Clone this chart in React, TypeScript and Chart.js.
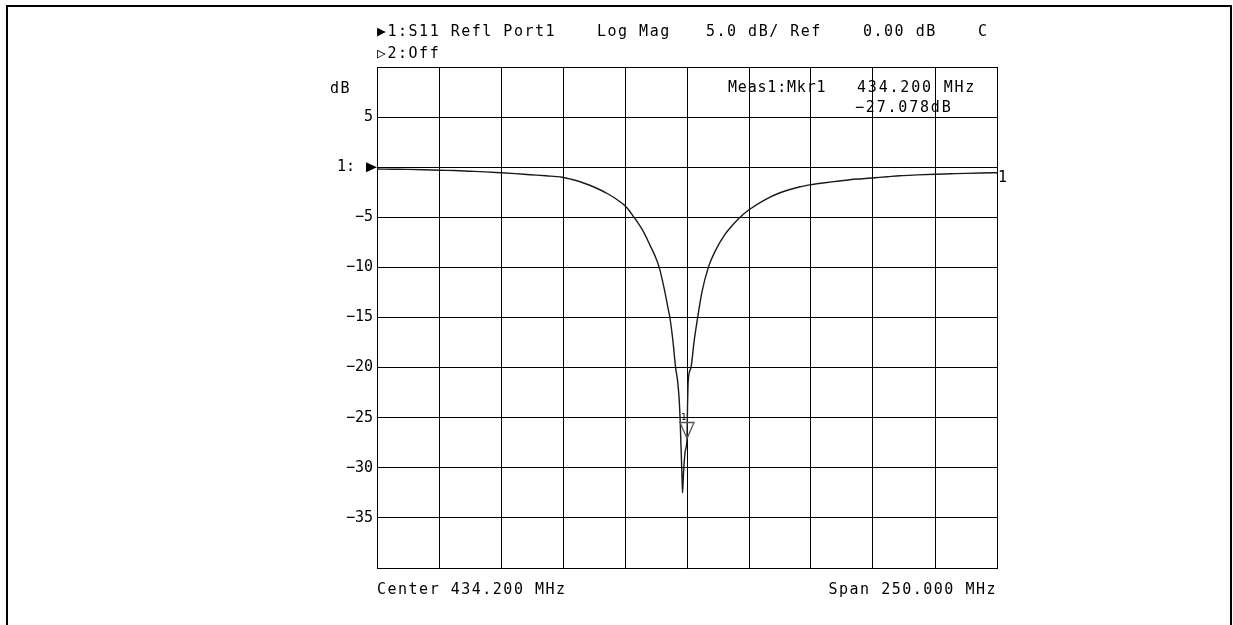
import React, { useEffect, useRef } from 'react';
import { Chart, registerables } from 'chart.js';

Chart.register(...registerables);

// S11 trace (frequency in MHz, magnitude in dB)
const FREQ_MHZ = [
  309.2, 315.5, 321.7, 328.0, 334.6, 340.5, 346.7, 352.8, 358.8, 364.9, 370.9, 377.3, 383.8, 387.5,
  391.1, 395.0, 399.1, 402.2, 405.2, 407.2, 409.2, 410.8, 412.4, 414.3, 416.1, 417.7, 419.3, 421.3,
  423.0, 424.9, 426.7, 427.3, 428.6, 429.6, 430.4, 431.0, 431.4, 431.8, 432.2, 432.4, 432.8, 433.4,
  433.8, 434.2, 434.4, 434.7, 435.8, 437.0, 438.5, 440.2, 442.8, 445.5, 449.5, 452.5, 455.6, 459.2,
  465.6, 471.7, 479.8, 484.8, 489.8, 494.8, 499.9, 505.0, 510.0, 515.0, 520.1, 527.0, 534.2, 540.3,
  546.3, 552.8, 559.2,
];
const S11_DB = [
  -0.18, -0.2, -0.22, -0.25, -0.3, -0.33, -0.4, -0.47, -0.55, -0.64, -0.75, -0.86, -1.0, -1.2,
  -1.45, -1.8, -2.25, -2.65, -3.1, -3.45, -3.85, -4.3, -4.85, -5.5, -6.2, -6.95, -7.8, -8.85,
  -10.0, -12.0, -14.25, -15.0, -17.5, -20.0, -21.3, -23.0, -25.0, -28.0, -31.0, -32.5, -30.5, -28.5,
  -28.0, -27.08, -24.0, -21.3, -20.0, -17.5, -15.0, -12.5, -10.0, -8.4, -6.7, -5.8, -5.0, -4.25,
  -3.25, -2.55, -1.95, -1.72, -1.55, -1.4, -1.25, -1.15, -1.05, -0.95, -0.85, -0.77, -0.7, -0.66,
  -0.62, -0.58, -0.55,
];

const X_GRID_MHZ = [309.2, 334.2, 359.2, 384.2, 409.2, 434.2, 459.2, 484.2, 509.2, 534.2, 559.2];
const Y_TICKS = [10, 5, 0, -5, -10, -15, -20, -25, -30, -35, -40];
const Y_TICK_LABELS = ['', '5', '1:  ', '\u22125', '\u221210', '\u221215', '\u221220', '\u221225', '\u221230', '\u221235', ''];

const MARKER_FREQ = 434.2;
const MARKER_DB = -27.078;

const HEADER_1 = ['\u25B61:S11 Refl Port1', 'Log Mag', '5.0 dB/ Ref', '0.00 dB', 'C'];
const HEADER_2 = '\u25B72:Off';
const MARKER_TEXT = ['Meas1:Mkr1', '434.200 MHz', '\u221227.078dB'];
const FOOTER = ['Center 434.200 MHz', 'Span 250.000 MHz'];

const FONT = '"DejaVu Sans Mono", monospace';

const overlay = {
  id: 'overlay',
  afterDraw(chart: any) {
    const ctx = chart.ctx as CanvasRenderingContext2D;
    const xs = chart.scales.x;
    const ys = chart.scales.y;
    const area = chart.chartArea;
    ctx.save();
    // outer frame
    ctx.strokeStyle = '#000';
    ctx.lineWidth = 2;
    ctx.beginPath();
    ctx.moveTo(7, 700);
    ctx.lineTo(7, 6);
    ctx.lineTo(1231, 6);
    ctx.lineTo(1231, 700);
    ctx.stroke();

    ctx.fillStyle = '#000';
    ctx.font = `15px ${FONT}`;
    (ctx as any).letterSpacing = '1.5px';
    ctx.textBaseline = 'alphabetic';
    const txt = (s: string, px: number, py: number, align: CanvasTextAlign = 'left') => {
      ctx.textAlign = align;
      ctx.fillText(s, px, py);
    };
    const hx = [377, 597, 706, 863, 978];
    HEADER_1.forEach((s, i) => txt(s, hx[i], 36));
    txt(HEADER_2, 377, 58);
    txt('dB', 330, 93);
    (ctx as any).letterSpacing = '0.8px';
    txt(MARKER_TEXT[0], 728, 92);
    (ctx as any).letterSpacing = '1.8px';
    txt(MARKER_TEXT[1], 857, 92);
    txt(MARKER_TEXT[2], 855, 112);
    (ctx as any).letterSpacing = '1.5px';
    txt(FOOTER[0], area.left, 594);
    txt(FOOTER[1], area.right, 594, 'right');

    // reference position arrow at 0 dB
    const y0 = ys.getPixelForValue(0);
    ctx.beginPath();
    ctx.moveTo(area.left - 11, y0 - 5);
    ctx.lineTo(area.left, y0);
    ctx.lineTo(area.left - 11, y0 + 5);
    ctx.closePath();
    ctx.fill();

    // trace end label
    const lastX = xs.getPixelForValue(FREQ_MHZ[FREQ_MHZ.length - 1]);
    const lastY = ys.getPixelForValue(S11_DB[S11_DB.length - 1]);
    ctx.font = `15px ${FONT}`;
    (ctx as any).letterSpacing = '0px';
    txt('1', lastX + 1, lastY + 9);

    // marker 1
    const mx = xs.getPixelForValue(MARKER_FREQ);
    const my = ys.getPixelForValue(MARKER_DB);
    ctx.strokeStyle = '#555';
    ctx.lineWidth = 1.3;
    ctx.beginPath();
    ctx.moveTo(mx, my);
    ctx.lineTo(mx - 7, my - 16);
    ctx.lineTo(mx + 7, my - 16);
    ctx.closePath();
    ctx.stroke();
    ctx.font = `9px ${FONT}`;
    txt('1', mx - 6, my - 19);
    ctx.restore();
  },
};

export default function App() {
  const ref = useRef<HTMLCanvasElement | null>(null);
  useEffect(() => {
    if (!ref.current) return;
    const chart = new Chart(ref.current, {
      type: 'line',
      data: {
        datasets: [
          {
            data: FREQ_MHZ.map((f, i) => ({ x: f, y: S11_DB[i] })),
            borderColor: '#1a1a1a',
            borderWidth: 1.4,
            pointRadius: 0,
            cubicInterpolationMode: 'monotone',
            fill: false,
          },
        ],
      },
      options: {
        animation: false,
        responsive: true,
        maintainAspectRatio: false,
        layout: { padding: { left: 277, right: 236, top: 67, bottom: 57 } },
        plugins: { legend: { display: false }, tooltip: { enabled: false }, title: { display: false } },
        scales: {
          x: {
            type: 'linear',
            min: X_GRID_MHZ[0],
            max: X_GRID_MHZ[X_GRID_MHZ.length - 1],
            afterBuildTicks: (s: any) => {
              s.ticks = X_GRID_MHZ.map((v) => ({ value: v }));
            },
            afterFit: (s: any) => {
              s.height = 0;
            },
            ticks: { display: false },
            grid: { color: '#000', lineWidth: 1, drawTicks: false },
            border: { color: '#000', width: 1 },
          },
          y: {
            type: 'linear',
            min: -40,
            max: 10,
            afterBuildTicks: (s: any) => {
              s.ticks = Y_TICKS.map((v) => ({ value: v }));
            },
            afterFit: (s: any) => {
              s.width = 100;
            },
            ticks: {
              padding: 4,
              color: '#000',
              font: { family: FONT, size: 15 },
              callback: (v: any) => {
                const i = Y_TICKS.indexOf(Number(v));
                return i >= 0 ? Y_TICK_LABELS[i] : '';
              },
            },
            grid: { color: '#000', lineWidth: 1, drawTicks: false },
            border: { color: '#000', width: 1 },
          },
        },
      },
      plugins: [overlay],
    });
    return () => chart.destroy();
  }, []);
  return (
    <div style={{ position: 'absolute', left: 0, top: 0, width: 1233, height: 625, background: '#fff' }}>
      <canvas ref={ref} />
    </div>
  );
}
